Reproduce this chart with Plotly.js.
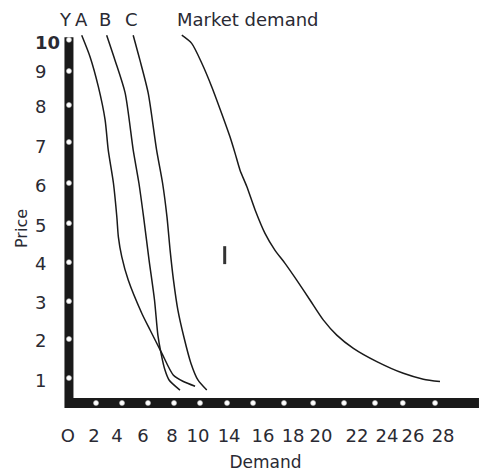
<!DOCTYPE html>
<html><head><meta charset="utf-8">
<script src="https://cdn.plot.ly/plotly-3.0.1.min.js"></script>
<style>html,body{margin:0;padding:0;background:#fff}#chart{width:499px;height:475px}</style>
</head><body><div id="chart"></div>
<script>
// x is measured in "tick slots" (the reference's demand ticks are not evenly spaced), y in price
const curveA_x = [0.45,0.77,1.09,1.35,1.47,1.67,1.80,1.86,1.99,2.24,2.76,3.08,3.53,3.97,4.36,4.81];
const curveA_y = [9.79,9.24,8.47,7.62,6.85,6.00,5.14,4.62,4.11,3.51,2.66,2.23,1.64,1.08,0.91,0.79];
const curveB_x = [1.41,1.73,2.12,2.43,2.65,2.83,3.04,3.25,3.38,3.50,3.65,3.81,4.23];
const curveB_y = [9.79,9.15,8.31,6.85,6.00,5.13,4.03,3.00,2.10,1.64,1.21,0.95,0.69];
const curveC_x = [2.43,2.69,3.01,3.33,3.56,3.73,3.85,3.98,4.15,4.38,4.65,4.92,5.26];
const curveC_y = [9.79,9.15,8.30,6.85,6.00,5.13,4.28,3.51,2.74,2.05,1.38,0.95,0.69];
const market_x = [4.30,4.68,5.07,5.45,5.83,6.15,6.35,6.54,6.80,7.12,7.50,7.88,8.27,8.72,9.23,9.74,10.26,10.90,11.80,12.82,13.59,14.23];
const market_y = [9.79,9.58,9.07,8.47,7.79,7.19,6.76,6.33,5.91,5.31,4.71,4.28,3.94,3.51,3.00,2.49,2.10,1.76,1.42,1.12,0.97,0.91];

const xTickLabels = ["O","2","4","6","8","10","14","16","18","20","22","24","26","28","X"];
const xTickLabelPos = [-0.08,0.92,1.81,2.81,3.92,4.92,6.12,7.42,8.58,9.65,11.04,12.19,13.19,14.35,16.27];
const xDotPos = [1,2,3,4,5,6.04,7.04,8.23,9.35,10.54,11.73,12.8,14.04];
const yTickLabels = ["1","2","3","4","5","6","7","8","9","<b><span style=\"font-size:18px\">10</span></b>"];
const yTickLabelPos = [0.92,1.95,2.92,3.92,4.90,5.92,6.92,7.95,8.85,9.59];
const yDotPos = [1,2,2.97,3.97,4.97,6,7.05,8,8.87,9.67];

const curveNames = ["Y","A","B","C","Market demand"];
const curveNamePos = [-0.19,0.46,1.35,2.35,6.85];

const AX_X = -0.04, AX_Y = 0.36;
const ink = '#1a1a1a', txt = '#2a2a33';
const FONT = 'DejaVu Sans, sans-serif';

const lineStyle = {color: ink, width: 1.5, shape: 'spline', smoothing: 0.7};
const traces = [
  {x: curveA_x, y: curveA_y, mode: 'lines', line: lineStyle, name: 'A'},
  {x: curveB_x, y: curveB_y, mode: 'lines', line: lineStyle, name: 'B'},
  {x: curveC_x, y: curveC_y, mode: 'lines', line: lineStyle, name: 'C'},
  {x: market_x, y: market_y, mode: 'lines', line: lineStyle, name: 'Market demand'},
];

const shapes = [
  {type: 'line', layer: 'below', xref: 'x', yref: 'y', x0: AX_X, x1: AX_X, y0: 0.23, y1: 9.74, line: {color: ink, width: 9}},
  {type: 'line', layer: 'below', xref: 'x', yref: 'y', x0: -0.19, x1: 15.73, y0: AX_Y, y1: AX_Y, line: {color: ink, width: 10}},
  {type: 'line', layer: 'below', xref: 'x', yref: 'y', x0: 5.95, x1: 5.95, y0: 3.92, y1: 4.38, line: {color: '#333', width: 3}}
];

traces.push({x: xDotPos, y: xDotPos.map(() => AX_Y), mode: 'markers', cliponaxis: false,
  marker: {color: '#fff', size: 5, line: {color: '#bbb', width: 0.6}}});
traces.push({x: yDotPos.map(() => AX_X), y: yDotPos, mode: 'markers', cliponaxis: false,
  marker: {color: '#fff', size: 5, line: {color: '#bbb', width: 0.6}}});

const annotations = curveNames.map((t, i) => ({
  x: curveNamePos[i], y: 10.2, xref: 'x', yref: 'y', text: t, showarrow: false,
  font: {family: FONT, size: 18, color: txt}, xanchor: 'center', yanchor: 'middle'
}));
annotations.push({x: (22 - 32) / 467, y: 1 - (229 - 10) / 407, xref: 'paper', yref: 'paper',
  text: 'Price', showarrow: false, textangle: -90, xanchor: 'center', yanchor: 'middle',
  font: {family: FONT, size: 16, color: txt}});

const layout = {
  width: 499, height: 475,
  margin: {l: 32, r: 0, t: 10, b: 58},
  paper_bgcolor: '#fff', plot_bgcolor: '#fff',
  showlegend: false,
  xaxis: {range: [-1.4615, 16.5], showgrid: false, zeroline: false, showline: false,
    tickmode: 'array', tickvals: xTickLabelPos, ticktext: xTickLabels,
    ticks: '', ticklabelstandoff: 6,
    tickfont: {family: FONT, size: 18, color: txt},
    title: {text: 'Demand', font: {family: FONT, size: 17, color: txt}, standoff: 11}},
  yaxis: {range: [0, 10.436], showgrid: false, zeroline: false, showline: false,
    tickmode: 'array', tickvals: yTickLabelPos, ticktext: yTickLabels,
    ticklabelposition: 'inside', ticks: '',
    tickfont: {family: FONT, size: 18, color: txt}},
  shapes: shapes,
  annotations: annotations,
  font: {family: FONT}
};

Plotly.newPlot('chart', traces, layout, {displayModeBar: false, staticPlot: true});
</script></body></html>
